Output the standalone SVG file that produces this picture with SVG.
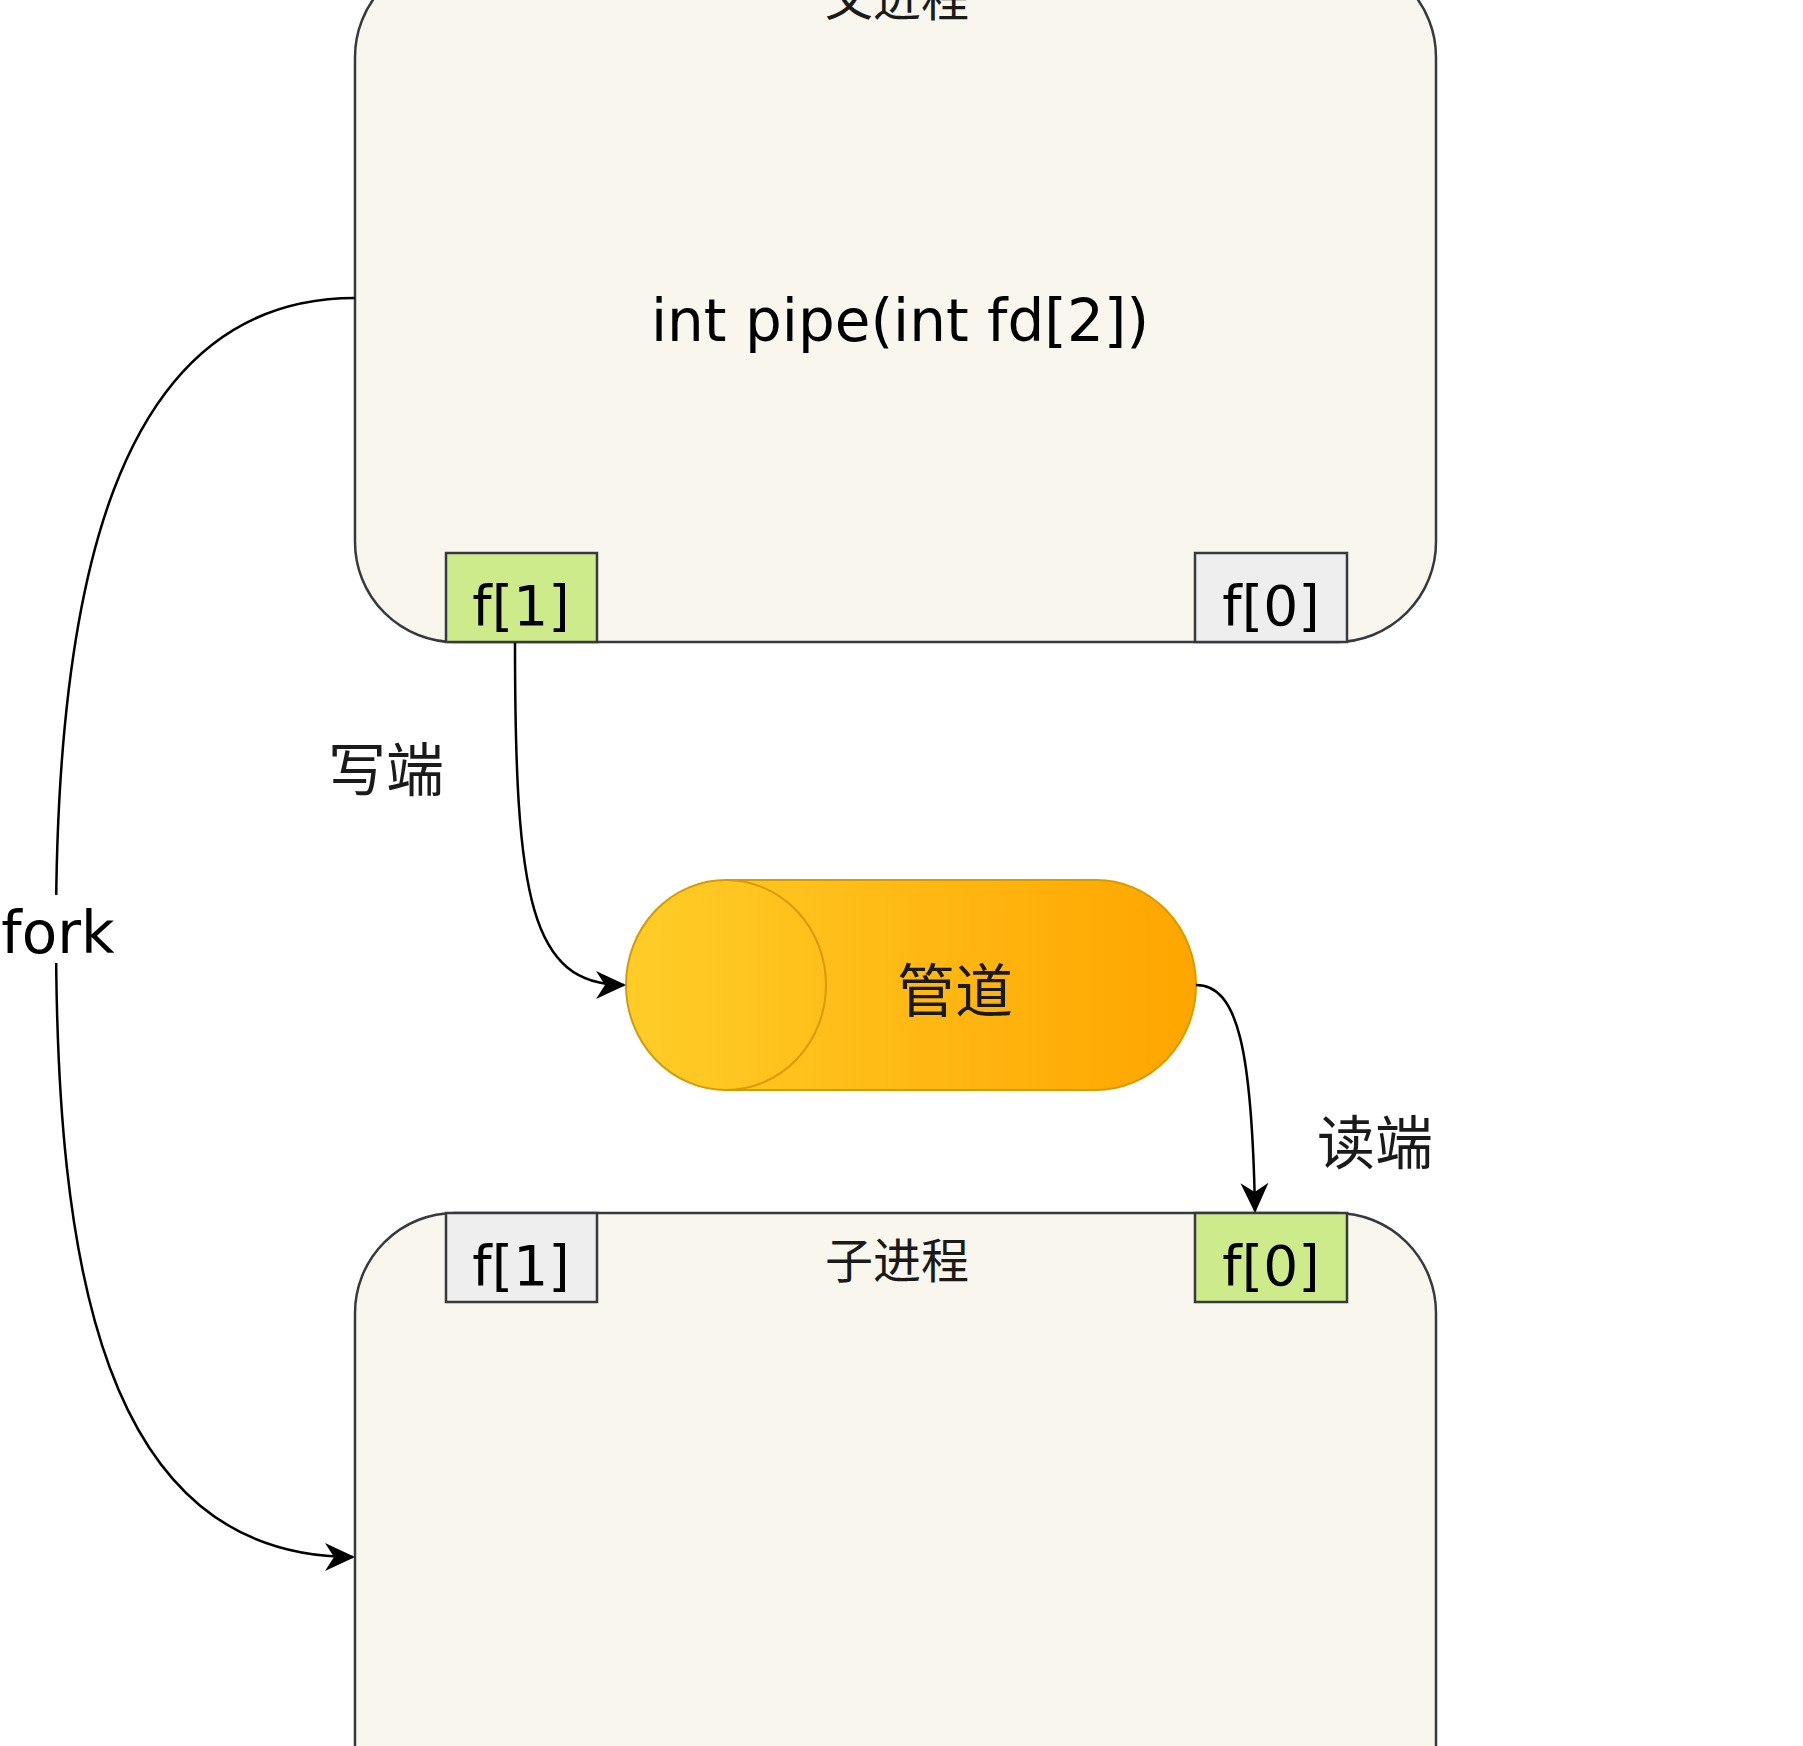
<svg xmlns="http://www.w3.org/2000/svg" width="1803" height="1746" viewBox="0 0 1803 1746">
<defs>
<style>
.proc{fill:#f9f7ed;stroke:#36393d;stroke-width:2.5}
.fd-on{fill:#cdeb8b;stroke:#36393d;stroke-width:2.5}
.fd-off{fill:#eeeeee;stroke:#36393d;stroke-width:2.5}
.lat{font-family:"DejaVu Sans","Liberation Sans",sans-serif;fill:#000}
.cjk{font-family:"Noto Sans CJK SC","Noto Sans CJK TC",sans-serif;fill:#1a1a1a}
.edge{fill:none;stroke:#000;stroke-width:2.5}
</style>
<linearGradient id="pipeGrad" x1="0" y1="0" x2="1" y2="0">
<stop offset="0" stop-color="#ffcd28"/>
<stop offset="1" stop-color="#ffa500"/>
</linearGradient>
<marker id="arrow" viewBox="0 0 30 30" refX="28" refY="15" markerWidth="30" markerHeight="30" markerUnits="userSpaceOnUse" orient="auto">
<path d="M0,1 L30,15 L0,29 L9,15 Z" fill="#000"/>
</marker>
</defs>
<rect width="1803" height="1746" fill="#ffffff"/>

<g id="parent">
<rect class="proc" x="355" y="-43" width="1081" height="685" rx="100" ry="100"/>
<text class="cjk" x="897" y="16" font-size="48" text-anchor="middle">父进程</text>
<text class="lat" x="900" y="341" font-size="58" text-anchor="middle">int pipe(int fd[2])</text>
</g>
<g id="parent-f1">
<rect class="fd-on" x="446" y="553" width="151" height="89"/>
<text class="lat" x="521" y="625" font-size="55" text-anchor="middle">f[1]</text>
</g>
<g id="parent-f0">
<rect class="fd-off" x="1195" y="553" width="152" height="89"/>
<text class="lat" x="1271" y="625" font-size="55" text-anchor="middle">f[0]</text>
</g>

<g id="pipe">
<path d="M726,880 L1096,880 A100,105 0 0 1 1096,1090 L726,1090 A100,105 0 0 1 726,880 Z" fill="url(#pipeGrad)" stroke="#d79b00" stroke-width="2"/>
<path d="M726,880 A100,105 0 0 1 726,1090" fill="none" stroke="#d79b00" stroke-width="2"/>
<text class="cjk" x="955" y="1012" font-size="58" text-anchor="middle">管道</text>
</g>

<g id="child">
<rect class="proc" x="355" y="1213" width="1081" height="700" rx="100" ry="100"/>
<text class="cjk" x="897" y="1278" font-size="48" text-anchor="middle">子进程</text>
</g>
<g id="child-f1">
<rect class="fd-off" x="446" y="1213" width="151" height="89"/>
<text class="lat" x="521" y="1285" font-size="55" text-anchor="middle">f[1]</text>
</g>
<g id="child-f0">
<rect class="fd-on" x="1195" y="1213" width="152" height="89"/>
<text class="lat" x="1271" y="1285" font-size="55" text-anchor="middle">f[0]</text>
</g>

<g id="connectors">
<path class="edge" d="M355,298 C110,298 56,600 56,930 C56,1260 100,1557 353,1557" marker-end="url(#arrow)"/>
<rect x="0" y="895" width="118" height="68" fill="#ffffff"/>
<text class="lat" x="58" y="953" font-size="58" text-anchor="middle">fork</text>
<path class="edge" d="M515,643 C515,898 530,985 624,985" marker-end="url(#arrow)"/>
<text class="cjk" x="386" y="791" font-size="58" text-anchor="middle">写端</text>
<path class="edge" d="M1196,985 C1238,985 1252,1050 1255,1211" marker-end="url(#arrow)"/>
<text class="cjk" x="1375" y="1164" font-size="58" text-anchor="middle">读端</text>
</g>
</svg>
